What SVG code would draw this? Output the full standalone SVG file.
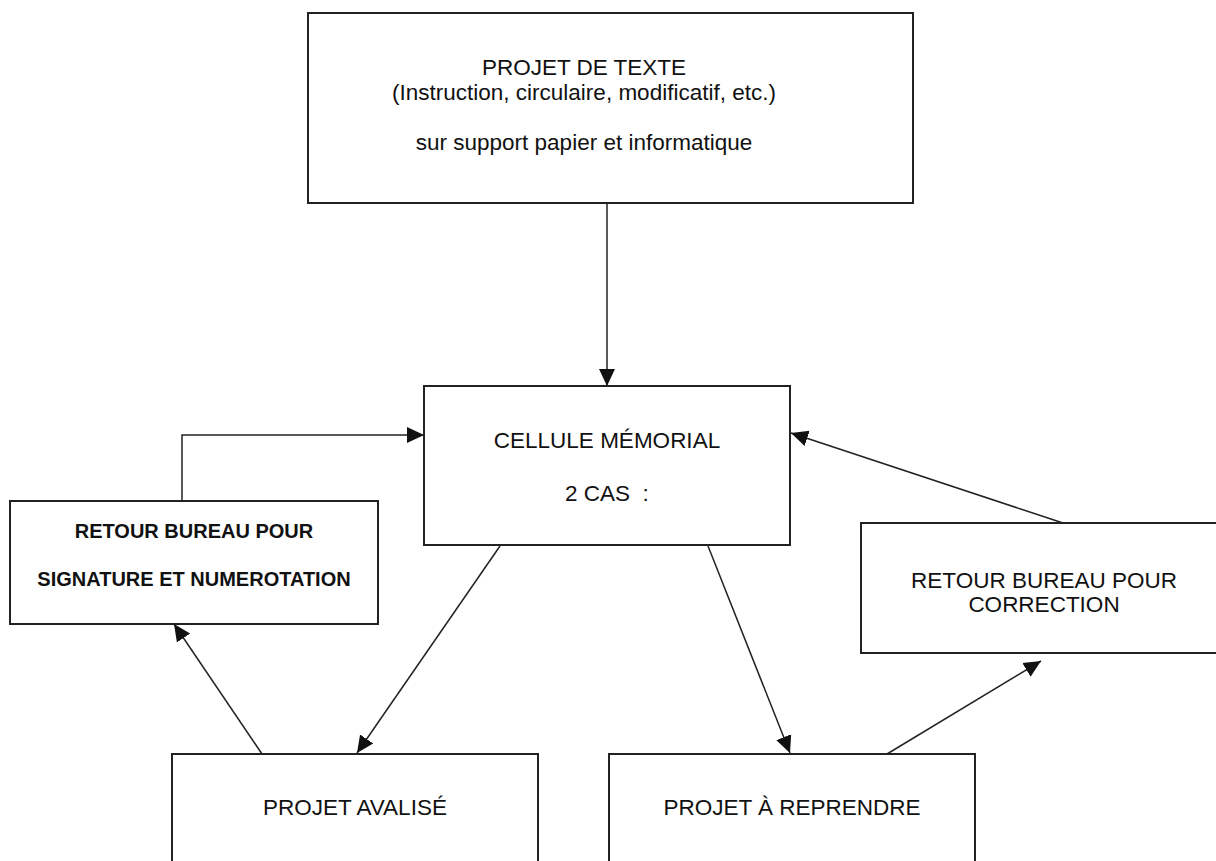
<svg xmlns="http://www.w3.org/2000/svg" width="1216" height="861" viewBox="0 0 1216 861">
<style>
.box{fill:#fff;stroke:#222;stroke-width:2}
.t{font-family:"Liberation Sans",Arial,sans-serif;font-size:22.5px;fill:#111;text-anchor:middle}
.b{font-family:"Liberation Sans",Arial,sans-serif;font-size:20px;font-weight:bold;fill:#111;text-anchor:middle}
.c{fill:none;stroke:#222;stroke-width:1.5}
</style>
<defs>
<marker id="ah" markerUnits="userSpaceOnUse" markerWidth="18" markerHeight="18" refX="17" refY="9" orient="auto">
<path d="M0,1 L17,9 L0,17 z" fill="#111"/>
</marker>
</defs>
<rect width="1216" height="861" fill="#fff"/>
<g id="connectors">
<line class="c" x1="607" y1="203" x2="607" y2="386" marker-end="url(#ah)"/>
<polyline class="c" points="182,501 182,435 424,435" marker-end="url(#ah)"/>
<line class="c" x1="1063" y1="523" x2="791" y2="433" marker-end="url(#ah)"/>
<line class="c" x1="500" y1="546" x2="357" y2="753" marker-end="url(#ah)"/>
<line class="c" x1="262" y1="754" x2="174" y2="624" marker-end="url(#ah)"/>
<line class="c" x1="708" y1="546" x2="790" y2="753" marker-end="url(#ah)"/>
<line class="c" x1="887" y1="754" x2="1041" y2="661" marker-end="url(#ah)"/>
</g>
<g id="projet-texte">
<rect class="box" x="308" y="13" width="605" height="190"/>
<text class="t" x="584" y="75">PROJET DE TEXTE</text>
<text class="t" x="584" y="100">(Instruction, circulaire, modificatif, etc.)</text>
<text class="t" x="584" y="150">sur support papier et informatique</text>
</g>
<g id="cellule">
<rect class="box" x="424" y="386" width="366" height="159"/>
<text class="t" x="607" y="448">CELLULE MÉMORIAL</text>
<text class="t" x="607" y="501" style="white-space:pre">2 CAS  :</text>
</g>
<g id="retour-signature">
<rect class="box" x="10" y="501" width="368" height="123"/>
<text class="b" x="194" y="538">RETOUR BUREAU POUR</text>
<text class="b" x="194" y="586">SIGNATURE ET NUMEROTATION</text>
</g>
<g id="retour-correction">
<rect class="box" x="861" y="523" width="370" height="130"/>
<text class="t" x="1044" y="588">RETOUR BUREAU POUR</text>
<text class="t" x="1044" y="612">CORRECTION</text>
</g>
<g id="projet-avalise">
<rect class="box" x="172" y="754" width="366" height="130"/>
<text class="t" x="355" y="815">PROJET AVALISÉ</text>
</g>
<g id="projet-reprendre">
<rect class="box" x="609" y="754" width="366" height="130"/>
<text class="t" x="792" y="815">PROJET À REPRENDRE</text>
</g>
</svg>
